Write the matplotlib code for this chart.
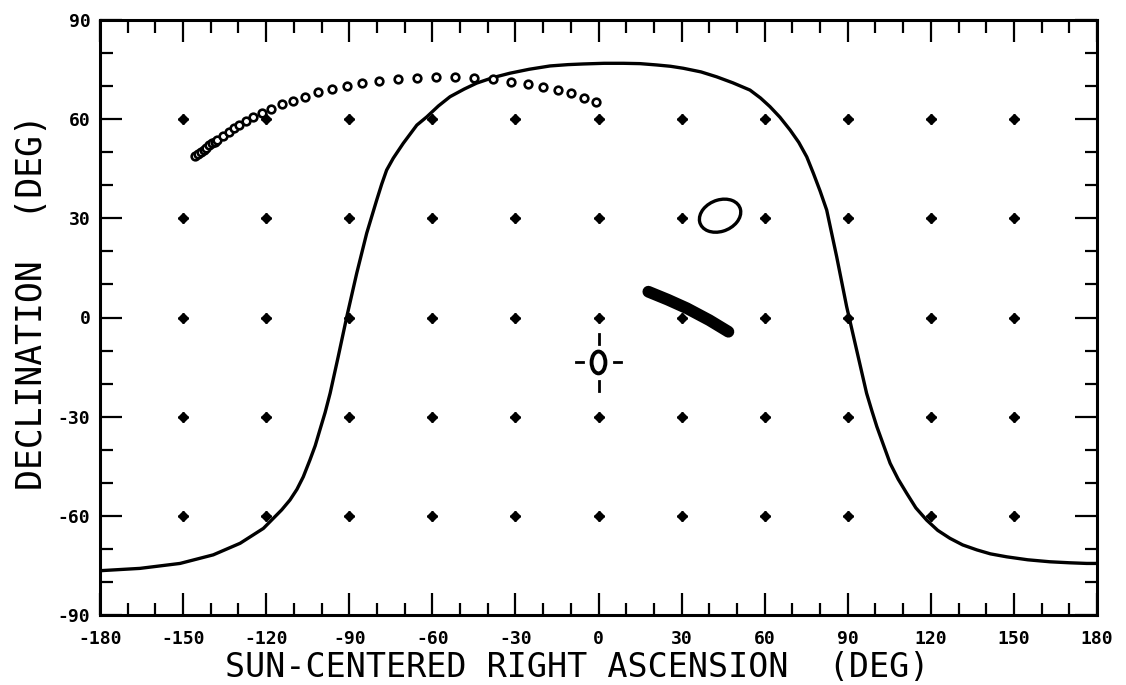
import matplotlib
matplotlib.use("Agg")
import matplotlib.pyplot as plt
from matplotlib.patches import Ellipse
from matplotlib.ticker import MultipleLocator
import numpy as np

plt.rcParams['axes.unicode_minus'] = False

# ---- data ----
grid_ra = [-150, -120, -90, -60, -30, 0, 30, 60, 90, 120, 150]
grid_dec = [-60, -30, 0, 30, 60]

curve_ra = [-180, -165.6, -151.1, -139.1, -129.4, -121.0, -114.4, -111.4, -108.9,
            -106.6, -104.2, -102.3, -100.6, -98.7, -96.9, -94.0, -90.9, -87.3,
            -83.7, -80.1, -78.3, -76.5, -74.1, -70.5, -65.6, -62.0, -57.8, -53.6,
            -48.5, -44.0, -38.0, -32.0, -25.0, -17.5, -11.0, -5.5, 2.0, 9.0, 15.0,
            21.0, 26.0, 30.6, 37.0, 42.7, 48.5, 54.7, 58.5, 61.9, 65.5, 69.2, 72.3,
            75.2, 77.6, 80.0, 82.4, 86.0, 89.6, 93.2, 96.8, 98.7, 100.5, 103.0,
            105.3, 108.2, 111.3, 114.6, 118.5, 122.5, 126.9, 131.5, 136.6, 141.5,
            147.4, 155.0, 163.0, 170.0, 176.3, 180]
curve_dec = [-76.6, -75.9, -74.4, -71.8, -68.3, -63.8, -58.2, -55.2, -52.0,
             -48.2, -43.1, -38.8, -34.0, -28.7, -22.9, -11.9, 0.2, 13.4,
             25.5, 35.5, 40.3, 44.6, 48.2, 52.7, 58.2, 60.7, 64.0, 66.8,
             69.1, 70.9, 72.6, 73.9, 75.1, 76.1, 76.5, 76.7, 76.9, 76.9, 76.8,
             76.4, 76.0, 75.4, 74.3, 72.8, 71.0, 68.8, 66.4, 63.8, 60.6, 56.7, 53.0,
             48.6, 43.6, 38.3, 32.5, 18.4, 3.3, -9.8, -22.9, -28.2, -33.0, -38.8,
             -44.1, -48.9, -53.2, -57.6, -61.3, -64.4, -66.8, -68.8, -70.3, -71.5,
             -72.4, -73.3, -73.9, -74.2, -74.4, -74.4]

track_ra = [-145.7, -144.6, -143.6, -142.6, -141.7, -140.7, -139.7, -138.6, -137.6,
            -135.5, -133.3, -131.5, -129.7, -127.3, -124.6, -121.6, -118.4, -114.4,
            -110.2, -106.0, -101.4, -96.3, -90.9, -85.5, -79.1, -72.5, -65.6, -58.8,
            -51.8, -45.0, -38.2, -31.6, -25.6, -20.1, -14.7, -9.9, -5.1, -0.9]
track_dec = [48.9, 49.6, 50.2, 50.8, 51.4, 52.1, 52.7, 53.2, 53.7,
             54.9, 56.2, 57.2, 58.2, 59.5, 60.6, 61.8, 63.0, 64.6,
             65.6, 66.8, 68.1, 69.1, 70.1, 70.9, 71.5, 72.1, 72.5, 72.7,
             72.7, 72.5, 72.1, 71.3, 70.6, 69.6, 68.8, 67.8, 66.5, 65.3]

streak_ra = [18.0, 25.0, 31.9, 40.0, 46.9]
streak_dec = [7.8, 5.4, 2.8, -0.8, -4.3]

ellipse_center = (43.9, 30.8)
ellipse_size = (15.2, 9.6)
ellipse_angle = 14

sun_ra, sun_dec = 0.0, -13.6

xticks = [-180, -150, -120, -90, -60, -30, 0, 30, 60, 90, 120, 150, 180]
yticks = [-90, -60, -30, 0, 30, 60, 90]

# ---- figure ----
fig = plt.figure(figsize=(11.26, 6.85), dpi=100)
ax = fig.add_axes([100/1126, 1-615/685, 997/1126, 595/685])
ax.set_xlim(-180, 180)
ax.set_ylim(-90, 90)

gx, gy = np.meshgrid(grid_ra, grid_dec)
ax.plot(gx.ravel(), gy.ravel(), linestyle='none', marker='D', markersize=5.5,
        color='black', zorder=2)
ax.plot(gx.ravel(), gy.ravel(), linestyle='none', marker='+', markersize=7.5,
        markeredgewidth=1.8, color='black', zorder=2)

ax.plot(curve_ra, curve_dec, color='black', lw=2.4, zorder=3,
        solid_joinstyle='round')

ax.plot(track_ra, track_dec, linestyle='none', marker='o', markersize=5.5,
        markerfacecolor='white', markeredgecolor='black', markeredgewidth=1.9,
        zorder=4)

ax.plot(streak_ra, streak_dec, color='black', lw=8.5, solid_capstyle='round',
        zorder=4)

ax.add_patch(Ellipse(ellipse_center, ellipse_size[0], ellipse_size[1],
                     angle=ellipse_angle, fill=False, lw=2.4, color='black',
                     zorder=4))

# sun symbol
ax.add_patch(Ellipse((sun_ra, sun_dec), 5.0, 6.6, fill=False, lw=2.8,
                     color='black', zorder=4))
ax.plot([sun_ra, sun_ra], [sun_dec + 5.6, sun_dec + 8.5], color='black', lw=2, zorder=4)
ax.plot([sun_ra, sun_ra], [sun_dec - 5.6, sun_dec - 8.5], color='black', lw=2, zorder=4)
ax.plot([sun_ra - 5.5, sun_ra - 8.0], [sun_dec, sun_dec], color='black', lw=2, zorder=4)
ax.plot([sun_ra + 5.5, sun_ra + 8.0], [sun_dec, sun_dec], color='black', lw=2, zorder=4)

# axes styling
for s in ax.spines.values():
    s.set_linewidth(2.2)
ax.set_xticks(xticks)
ax.set_yticks(yticks)
ax.set_xticklabels([str(v) for v in xticks])
ax.set_yticklabels([str(v) for v in yticks])
ax.xaxis.set_minor_locator(MultipleLocator(10))
ax.yaxis.set_minor_locator(MultipleLocator(10))
ax.tick_params(which='both', direction='in', top=True, right=True, color='black')
ax.tick_params(which='major', length=16, width=1.6)
ax.tick_params(which='minor', length=9, width=1.6)
ax.tick_params(axis='x', which='major', pad=11)
ax.tick_params(axis='y', which='major', pad=7)
for lab in ax.get_xticklabels() + ax.get_yticklabels():
    lab.set_fontfamily('DejaVu Sans Mono')
    lab.set_fontweight('bold')
    lab.set_fontsize(13)

fig.text(577/1126, 8/685, 'SUN-CENTERED RIGHT ASCENSION  (DEG)',
         ha='center', va='baseline', fontsize=24, family='DejaVu Sans Mono')
fig.text(32/1126, 1-302/685, 'DECLINATION  (DEG)', rotation=90,
         ha='center', va='center', fontsize=25, family='DejaVu Sans Mono')

fig.savefig('out.png', dpi=100)
